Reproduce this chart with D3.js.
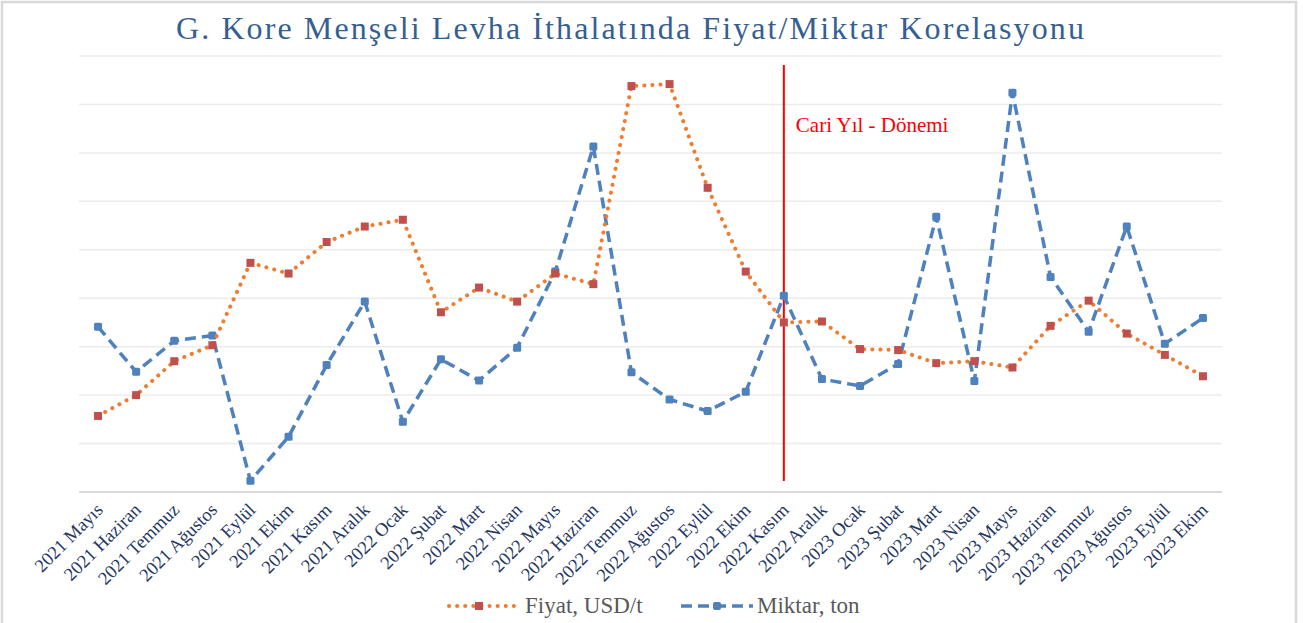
<!DOCTYPE html>
<html>
<head>
<meta charset="utf-8">
<script src="https://cdn.jsdelivr.net/npm/d3@7"></script>
<style>
  body { margin: 0; background: #fff; }
  svg { display: block; }
</style>
</head>
<body>
<svg id="chart" width="1303" height="623"></svg>
<script>
// categories (months)
const months = [
  "2021 Mayıs", "2021 Haziran", "2021 Temmuz", "2021 Ağustos", "2021 Eylül", "2021 Ekim",
  "2021 Kasım", "2021 Aralık", "2022 Ocak", "2022 Şubat", "2022 Mart", "2022 Nisan",
  "2022 Mayıs", "2022 Haziran", "2022 Temmuz", "2022 Ağustos", "2022 Eylül", "2022 Ekim",
  "2022 Kasım", "2022 Aralık", "2023 Ocak", "2023 Şubat", "2023 Mart", "2023 Nisan",
  "2023 Mayıs", "2023 Haziran", "2023 Temmuz", "2023 Ağustos", "2023 Eylül", "2023 Ekim"
];

// values (no axis labels, so in gridline units)
const fiyat = [
  1.57, 2.00, 2.70, 3.03, 4.73, 4.51, 5.16, 5.48, 5.62, 3.71,
  4.22, 3.93, 4.51, 4.29, 8.38, 8.42, 6.28, 4.55, 3.50, 3.52,
  2.95, 2.93, 2.66, 2.70, 2.57, 3.43, 3.95, 3.27, 2.83, 2.39
];
const miktar = [
  3.41, 2.48, 3.12, 3.23, 0.23, 1.14, 2.62, 3.93, 1.45, 2.74,
  2.30, 2.98, 4.55, 7.13, 2.47, 1.91, 1.67, 2.07, 4.05, 2.33,
  2.19, 2.64, 5.68, 2.29, 8.24, 4.44, 3.31, 5.48, 3.06, 3.59
];
const yDomain = [0, 9];
const cariMonth = "2022 Kasım";

const svg = d3.select("#chart");
const serif = "'Liberation Serif', 'Times New Roman', serif";

// outer frame
svg.append("rect")
  .attr("x", 2).attr("y", 2)
  .attr("width", 1294).attr("height", 625)
  .attr("fill", "none")
  .attr("stroke", "#d9d9d9")
  .attr("stroke-width", 2.5);

// title
svg.append("text")
  .attr("x", 631).attr("y", 39)
  .attr("text-anchor", "middle")
  .attr("font-family", serif)
  .attr("font-size", 32)
  .attr("letter-spacing", 2.1)
  .attr("fill", "#365F91")
  .text("G. Kore Menşeli Levha İthalatında Fiyat/Miktar Korelasyonu");

const x = d3.scaleBand().domain(months).range([79, 1222]).padding(0);
const xc = d => x(d) + x.bandwidth() / 2;
const y = d3.scaleLinear().domain(yDomain).range([492, 56]);

// gridlines
svg.append("g")
  .selectAll("line")
  .data(y.ticks(9).filter(t => t > 0))
  .join("line")
  .attr("x1", 79).attr("x2", 1222)
  .attr("y1", d => y(d)).attr("y2", d => y(d))
  .attr("stroke", "#ececec")
  .attr("stroke-width", 1.5);

// x axis line
svg.append("line")
  .attr("x1", 79).attr("x2", 1222)
  .attr("y1", y(0)).attr("y2", y(0))
  .attr("stroke", "#d9d9d9")
  .attr("stroke-width", 2);

// category labels
svg.append("g")
  .selectAll("text")
  .data(months)
  .join("text")
  .attr("transform", d => `translate(${xc(d) + 6},${y(0) + 19}) rotate(-45)`)
  .attr("text-anchor", "end")
  .attr("font-family", serif)
  .attr("font-size", 18.5)
  .attr("fill", "#1F3864")
  .text(d => d);

// current year marker
svg.append("line")
  .attr("x1", xc(cariMonth)).attr("x2", xc(cariMonth))
  .attr("y1", 65).attr("y2", 481)
  .attr("stroke", "#ff0000")
  .attr("stroke-width", 2);
svg.append("text")
  .attr("x", xc(cariMonth) + 12).attr("y", 132)
  .attr("font-family", serif)
  .attr("font-size", 21)
  .attr("fill", "#ff0000")
  .text("Cari Yıl - Dönemi");

const line = d3.line().x((d, i) => xc(months[i])).y(d => y(d));

// miktar (blue dashed)
svg.append("path")
  .datum(miktar)
  .attr("d", line)
  .attr("fill", "none")
  .attr("stroke", "#4F81BD")
  .attr("stroke-width", 3.5)
  .attr("stroke-dasharray", "11 6");
svg.append("g")
  .selectAll("rect")
  .data(miktar)
  .join("rect")
  .attr("x", (d, i) => xc(months[i]) - 4)
  .attr("y", d => y(d) - 4)
  .attr("width", 8).attr("height", 8)
  .attr("rx", 1.5)
  .attr("fill", "#4F81BD");

// fiyat (orange dotted)
svg.append("path")
  .datum(fiyat)
  .attr("d", line)
  .attr("fill", "none")
  .attr("stroke", "#ED7D31")
  .attr("stroke-width", 4)
  .attr("stroke-linecap", "round")
  .attr("stroke-dasharray", "0.1 8");
svg.append("g")
  .selectAll("rect")
  .data(fiyat)
  .join("rect")
  .attr("x", (d, i) => xc(months[i]) - 4)
  .attr("y", d => y(d) - 4)
  .attr("width", 8).attr("height", 8)
  .attr("fill", "#C0504D");

// legend
const lg = svg.append("g").attr("transform", "translate(0,606)");
lg.append("line")
  .attr("x1", 449).attr("x2", 514).attr("y1", 0).attr("y2", 0)
  .attr("stroke", "#ED7D31").attr("stroke-width", 4)
  .attr("stroke-linecap", "round").attr("stroke-dasharray", "0.1 8");
lg.append("rect")
  .attr("x", 475).attr("y", -4).attr("width", 8).attr("height", 8)
  .attr("fill", "#C0504D");
lg.append("text")
  .attr("x", 525).attr("y", 7)
  .attr("font-family", serif).attr("font-size", 23)
  .attr("fill", "#595959")
  .text("Fiyat, USD/t");

lg.append("line")
  .attr("x1", 681).attr("x2", 753).attr("y1", 0).attr("y2", 0)
  .attr("stroke", "#4F81BD").attr("stroke-width", 3.5)
  .attr("stroke-dasharray", "11 6");
lg.append("rect")
  .attr("x", 713).attr("y", -4).attr("width", 8).attr("height", 8)
  .attr("rx", 2)
  .attr("fill", "#4F81BD");
lg.append("text")
  .attr("x", 757).attr("y", 7)
  .attr("font-family", serif).attr("font-size", 23)
  .attr("fill", "#595959")
  .text("Miktar, ton");
</script>
</body>
</html>
